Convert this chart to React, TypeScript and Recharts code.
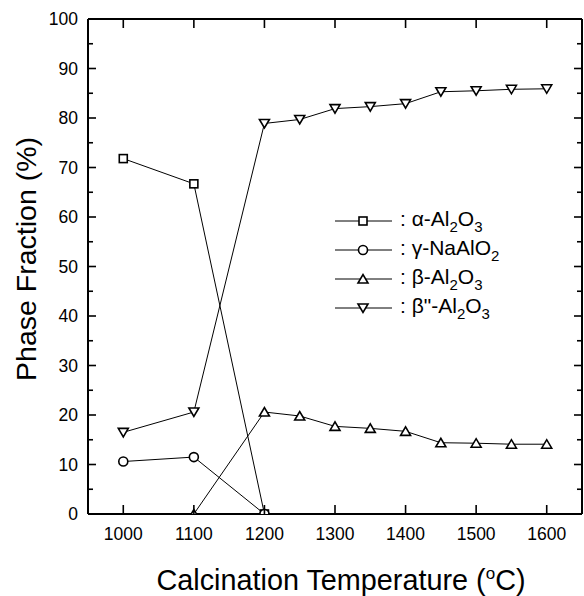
import React from 'react';
import { LineChart, Line, XAxis, YAxis } from 'recharts';

const temps = [1000, 1100, 1200, 1250, 1300, 1350, 1400, 1450, 1500, 1550, 1600];
const alphaAl2O3 = [71.8, 66.7, 0, null, null, null, null, null, null, null, null];
const gammaNaAlO2 = [10.6, 11.5, 0, null, null, null, null, null, null, null, null];
const betaAl2O3 = [null, 0, 20.6, 19.8, 17.7, 17.3, 16.7, 14.4, 14.3, 14.1, 14.1];
const betaDblAl2O3 = [16.5, 20.6, 78.9, 79.7, 81.9, 82.3, 82.9, 85.3, 85.5, 85.8, 85.9];

const xTicks = [1000, 1100, 1200, 1300, 1400, 1500, 1600];
const yTicks = [0, 5, 10, 15, 20, 25, 30, 35, 40, 45, 50, 55, 60, 65, 70, 75, 80, 85, 90, 95, 100];

const seriesKeys = ['alpha', 'gamma', 'beta', 'betaDbl'];
const seriesShapes = ['square', 'circle', 'triUp', 'triDown'];
const legendLabels: [string, string][][] = [
  [['α-Al', '2'], ['O', '3']],
  [['γ-NaAlO', '2']],
  [['β-Al', '2'], ['O', '3']],
  [['β"-Al', '2'], ['O', '3']],
];

const data = temps.map((t, i) => ({
  t,
  alpha: alphaAl2O3[i],
  gamma: gammaNaAlO2[i],
  beta: betaAl2O3[i],
  betaDbl: betaDblAl2O3[i],
}));

const FONT = '"Liberation Sans", Arial, Helvetica, sans-serif';
const TS = 1; // tickSize
const TM = 1; // tickMargin
const OFF = TS + TM;

function Marker({ shape, cx, cy }: { shape: string; cx: number; cy: number }) {
  const common = { fill: '#fff', stroke: '#000', strokeWidth: 1.6 };
  if (shape === 'square') return <rect x={cx - 4} y={cy - 4} width={8} height={8} {...common} />;
  if (shape === 'circle') return <circle cx={cx} cy={cy} r={4.5} {...common} />;
  if (shape === 'triUp')
    return <polygon points={`${cx - 5},${cy + 4} ${cx + 5},${cy + 4} ${cx},${cy - 4.5}`} {...common} />;
  return <polygon points={`${cx - 5},${cy - 4} ${cx + 5},${cy - 4} ${cx},${cy + 4.5}`} {...common} />;
}

const makeDot = (shape: string) => (props: any) => {
  const { cx, cy, index, value } = props;
  if (value == null || cx == null || cy == null) return <g key={`e${index}`} />;
  return <Marker key={`${shape}${index}`} shape={shape} cx={cx} cy={cy} />;
};

const LeftTick = (props: any) => {
  const { x, y, payload } = props;
  const ax = x + OFF;
  const major = payload.value % 10 === 0;
  return (
    <g>
      <line x1={ax} x2={ax + (major ? 8 : 5)} y1={y} y2={y} stroke="#000" strokeWidth={1.6} />
      {major && (
        <text x={ax - 10} y={y} textAnchor="end" dominantBaseline="central" fontSize={17.5} fontFamily={FONT} fill="#000">
          {payload.value}
        </text>
      )}
    </g>
  );
};

const RightTick = (props: any) => {
  const { x, y, payload } = props;
  const ax = x - OFF;
  const major = payload.value % 10 === 0;
  return <line x1={ax - (major ? 8 : 5)} x2={ax} y1={y} y2={y} stroke="#000" strokeWidth={1.6} />;
};

const BottomTick = (props: any) => {
  const { x, y, payload } = props;
  const ay = y - OFF;
  return (
    <g>
      <line x1={x} x2={x} y1={ay} y2={ay - 9} stroke="#000" strokeWidth={1.6} />
      <text x={x} y={ay + 20} textAnchor="middle" dominantBaseline="central" fontSize={17.5} fontFamily={FONT} fill="#000">
        {payload.value}
      </text>
    </g>
  );
};

const TopTick = (props: any) => {
  const { x, y } = props;
  const ay = y + OFF;
  return <line x1={x} x2={x} y1={ay} y2={ay + 9} stroke="#000" strokeWidth={1.6} />;
};

export default function App() {
  return (
    <div style={{ position: 'absolute', left: 0, top: 0, width: 584, height: 596, background: '#fff' }}>
      <LineChart width={584} height={596} data={data} margin={{ top: 0, right: 0, bottom: 0, left: 0 }}>
        <XAxis
          xAxisId="b"
          dataKey="t"
          type="number"
          domain={[950, 1650]}
          ticks={xTicks}
          tickSize={TS}
          tickMargin={TM}
          tickLine={false}
          tick={<BottomTick />}
          axisLine={{ stroke: '#000', strokeWidth: 2 }}
          height={82}
          interval={0}
          allowDataOverflow
        />
        <XAxis
          xAxisId="t"
          orientation="top"
          dataKey="t"
          type="number"
          domain={[950, 1650]}
          ticks={xTicks}
          tickSize={TS}
          tickMargin={TM}
          tickLine={false}
          tick={<TopTick />}
          axisLine={{ stroke: '#000', strokeWidth: 2 }}
          height={19}
          interval={0}
          allowDataOverflow
        />
        <YAxis
          yAxisId="l"
          domain={[0, 100]}
          ticks={yTicks}
          tickSize={TS}
          tickMargin={TM}
          tickLine={false}
          tick={<LeftTick />}
          axisLine={{ stroke: '#000', strokeWidth: 2 }}
          width={88}
          interval={0}
          allowDataOverflow
        />
        <YAxis
          yAxisId="r"
          orientation="right"
          domain={[0, 100]}
          ticks={yTicks}
          tickSize={TS}
          tickMargin={TM}
          tickLine={false}
          tick={<RightTick />}
          axisLine={{ stroke: '#000', strokeWidth: 2 }}
          width={2}
          interval={0}
          allowDataOverflow
        />
        {seriesKeys.map((k, i) => (
          <Line
            key={k}
            xAxisId="b"
            yAxisId="l"
            dataKey={k}
            type="linear"
            stroke="#000"
            strokeWidth={1}
            dot={makeDot(seriesShapes[i])}
            activeDot={false}
            isAnimationActive={false}
            connectNulls={false}
          />
        ))}
        <text x={26} y={259} transform="rotate(-90 26 259)" textAnchor="middle" dominantBaseline="central" fontSize={28.5} fontFamily={FONT} fill="#000">
          Phase Fraction (%)
        </text>
        <text x={341} y={590} textAnchor="middle" fontSize={28.8} fontFamily={FONT} fill="#000">
          Calcination Temperature (<tspan fontSize={17} dy={-11}>o</tspan><tspan dy={11}>C)</tspan>
        </text>
      </LineChart>
      <div style={{ position: 'absolute', left: 335, top: 206, fontFamily: FONT, fontSize: 21, color: '#000' }}>
        {legendLabels.map((parts, i) => (
          <div key={i} style={{ display: 'flex', alignItems: 'center', height: 29.2, whiteSpace: 'nowrap' }}>
            <svg width={65} height={20} style={{ display: 'block' }}>
              <line x1={0} x2={57} y1={10} y2={10} stroke="#000" strokeWidth={1} />
              <Marker shape={seriesShapes[i]} cx={28} cy={10} />
            </svg>
            <span>
              :{' '}
              {parts.map(([txt, sub], j) => (
                <React.Fragment key={j}>
                  {txt}
                  <sub style={{ fontSize: 15, verticalAlign: -6 }}>{sub}</sub>
                </React.Fragment>
              ))}
            </span>
          </div>
        ))}
      </div>
    </div>
  );
}
